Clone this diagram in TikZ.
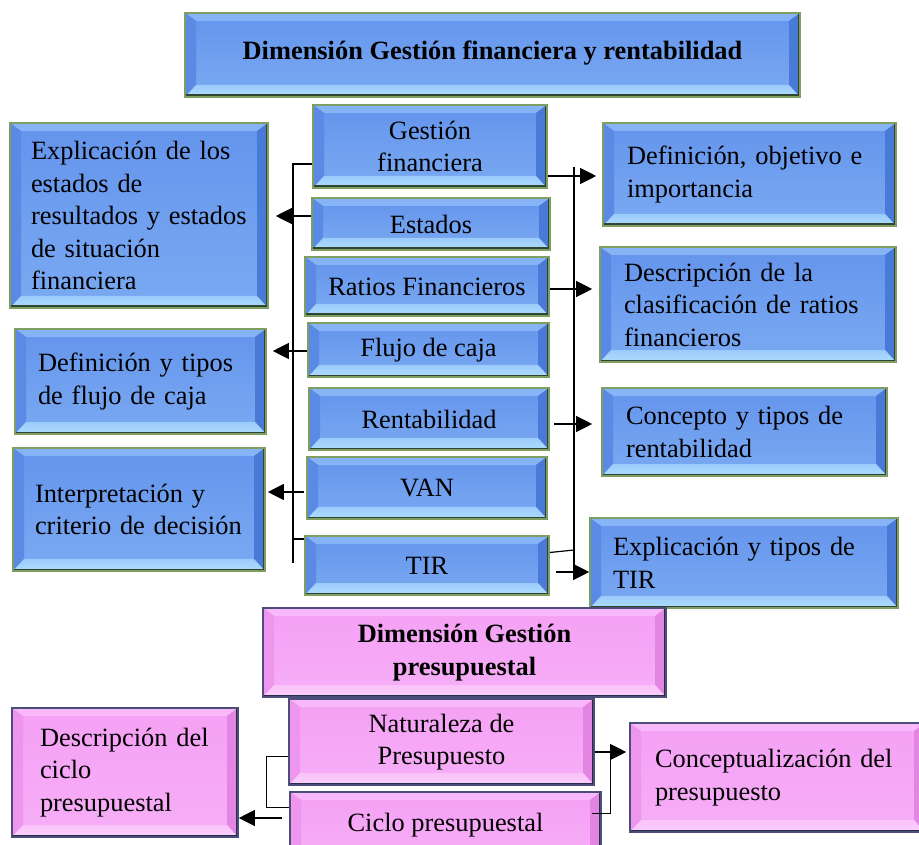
\documentclass[tikz,border=0pt]{standalone}
\usepackage{fontspec}
\setmainfont{Liberation Serif}
\usetikzlibrary{arrows.meta}

% blue boxes
\definecolor{bface}{HTML}{6494EC}
\definecolor{btop}{HTML}{86B4F6}
\definecolor{bleft}{HTML}{5A8AE4}
\definecolor{bright}{HTML}{4A7AD8}
\definecolor{bbot}{HTML}{AEDDFF}
\definecolor{bedge}{HTML}{7F9F62}
\definecolor{bshadow}{HTML}{2F4530}
% pink boxes
\definecolor{pface}{HTML}{F5A0F5}
\definecolor{ptop}{HTML}{F9B8F9}
\definecolor{pleft}{HTML}{EE95EE}
\definecolor{pright}{HTML}{E386E3}
\definecolor{pbot}{HTML}{FBCFFB}
\definecolor{pedge}{HTML}{4A4E78}
\definecolor{pshadow}{HTML}{2A2C48}

% bevel widths: sides, top, bottom
\def\bvS{11pt}
\def\bvT{8pt}
\def\bvB{12pt}

% raised-panel look: shaded face, four bevel trapezoids, shadowed lower-right rim
\newcommand\bevelart[6]{%
  \shade[top color=#1, bottom color=#1!70!#5] (path picture bounding box.south west) rectangle (path picture bounding box.north east);
  \fill[#2] (path picture bounding box.north west) -- (path picture bounding box.north east)
    -- ([shift={(-\bvS,-\bvT)}]path picture bounding box.north east)
    -- ([shift={(\bvS,-\bvT)}]path picture bounding box.north west) -- cycle;
  \fill[#3] (path picture bounding box.north west) -- ([shift={(\bvS,-\bvT)}]path picture bounding box.north west)
    -- ([shift={(\bvS,\bvB)}]path picture bounding box.south west)
    -- (path picture bounding box.south west) -- cycle;
  \fill[#4] (path picture bounding box.north east) -- ([shift={(-\bvS,-\bvT)}]path picture bounding box.north east)
    -- ([shift={(-\bvS,\bvB)}]path picture bounding box.south east)
    -- (path picture bounding box.south east) -- cycle;
  \shade[top color=#5!75!#1, bottom color=#5] (path picture bounding box.south west) -- (path picture bounding box.south east)
    -- ([shift={(-\bvS,\bvB)}]path picture bounding box.south east)
    -- ([shift={(\bvS,\bvB)}]path picture bounding box.south west) -- cycle;
  \draw[#6, line width=2pt] ([shift={(-1.5pt,-1pt)}]path picture bounding box.north east)
    -- ([shift={(-1.5pt,1.5pt)}]path picture bounding box.south east)
    -- ([shift={(1pt,1.5pt)}]path picture bounding box.south west);
}

\tikzset{
  panel/.style={draw=#1, line width=1.6pt, inner sep=0pt,
    font=\fontsize{26.4}{32.5}\selectfont},
  bluebox/.style={panel=bedge, path picture={\bevelart{bface}{btop}{bleft}{bright}{bbot}{bshadow}}},
  pinkbox/.style={panel=pedge, path picture={\bevelart{pface}{ptop}{pleft}{pright}{pbot}{pshadow}}},
  link/.style={line width=1.2pt},
  thinlink/.style={line width=0.9pt},
  arrow/.style={line width=1.2pt, -{Triangle[length=16pt,width=16pt]}},
}

% centred panel: style, name, x1, y1, x2, y2, text
\newcommand\cbox[7]{%
  \pgfmathsetmacro\bw{#5-#3}\pgfmathsetmacro\bh{#6-#4}%
  \pgfmathsetmacro\cx{(#3+#5)/2}\pgfmathsetmacro\cy{-(#4+#6)/2}%
  \node[#1, minimum width=\bw pt, minimum height=\bh pt, align=center] (#2) at (\cx,\cy) {#7};}
% left-aligned panel: style, name, x1, y1, x2, y2, padding, text
\newcommand\lbox[8]{%
  \pgfmathsetmacro\bw{#5-#3}\pgfmathsetmacro\bh{#6-#4}\pgfmathsetmacro\tw{#5-#3-2*#7}%
  \pgfmathsetmacro\cx{(#3+#5)/2}\pgfmathsetmacro\cy{-(#4+#6)/2}%
  \node[#1, minimum width=\bw pt, minimum height=\bh pt, text width=\tw pt, align=left] (#2) at (\cx,\cy) {#8};}

\begin{document}
\begin{tikzpicture}[x=1pt,y=1pt]
\useasboundingbox (0,0) rectangle (919,-845);

% financial dimension
\cbox{bluebox}{title}{185}{13}{800}{97}{\raisebox{10pt}{\bfseries Dimensión Gestión financiera y rentabilidad}}

\cbox{bluebox}{gf}{313}{105}{547}{188}{Gestión\\financiera}
\cbox{bluebox}{es}{312}{198}{550}{250}{Estados}
\cbox{bluebox}{ra}{305}{257}{549}{316}{Ratios Financieros}
\cbox{bluebox}{fl}{308}{323}{549}{377}{Flujo de caja}
\cbox{bluebox}{re}{309}{388}{549}{450}{Rentabilidad}
\cbox{bluebox}{va}{307}{457}{547}{519}{VAN}
\cbox{bluebox}{ti}{305}{536}{549}{595}{TIR}

\lbox{bluebox}{ex}{10}{123}{268}{308}{21}{Explicación de los\\estados de\\resultados y estados\\de situación\\financiera}
\lbox{bluebox}{df}{15}{329}{266}{434}{23}{Definición y tipos\\de flujo de caja}
\lbox{bluebox}{ic}{13}{448}{265}{571}{22}{Interpretación y\\criterio de decisión}

\lbox{bluebox}{d1}{603}{123}{896}{226}{24}{Definición, objetivo e\\importancia}
\lbox{bluebox}{d2}{600}{247}{896}{362}{24}{Descripción de la\\clasificación de ratios\\financieros}
\lbox{bluebox}{d3}{602}{388}{887}{476}{24}{Concepto y tipos de\\rentabilidad}
\lbox{bluebox}{d4}{590}{518}{898}{608}{23}{Explicación y tipos de\\TIR}

% budget dimension
\cbox{pinkbox}{pt}{263}{608}{666}{697}{\bfseries Dimensión Gestión\\\bfseries presupuestal}
\cbox{pinkbox}{nat}{289}{699}{594}{785}{Naturaleza de\\Presupuesto}
\cbox{pinkbox}{cic}{290}{792}{601}{860}{\raisebox{8pt}{Ciclo presupuestal}}
\lbox{pinkbox}{dc}{12}{708}{238}{837}{28}{Descripción del\\ciclo\\presupuestal}
\lbox{pinkbox}{conc}{630}{723}{925}{832}{25}{Conceptualización del\\presupuesto\\[6pt]}

% left trunk
\coordinate (lt) at (293,-164);
\coordinate (lk) at (293,-539);
\coordinate (lb) at (293,-563);
\draw[link] (gf.west |- lt) -- (lt) -- (lb);
\draw[link] (lk) -- (ti.west |- lk);
\coordinate (ea) at (312,-216);
\draw[arrow, shorten >=7pt] (es.west |- ea) -- (ex.east |- ea);
\coordinate (fa) at (308,-351);
\draw[arrow, shorten >=6pt] (fl.west |- fa) -- (df.east |- fa);
\coordinate (va0) at (307,-492);
\draw[arrow, shorten >=2pt, shorten <=2pt] (va.west |- va0) -- (ic.east |- va0);

% right trunk
\coordinate (rt) at (574,-167);
\coordinate (rb) at (574,-577);
\draw[link] (rt) -- (rb);
\coordinate (ga) at (549,-176);
\draw[arrow, shorten >=6pt] (gf.east |- ga) -- (d1.west |- ga);
\coordinate (rta) at (549,-289);
\draw[arrow, shorten >=7pt] (ra.east |- rta) -- (d2.west |- rta);
\coordinate (rea) at (549,-424);
\draw[arrow, shorten >=9pt, shorten <=4pt] (re.east |- rea) -- (d3.west |- rea);
\coordinate (tj) at (574,-550);
\draw[link] ([yshift=13pt]ti.east) -- (tj);
\coordinate (tb) at (549,-572);
\draw[arrow, shorten <=6pt] (ti.east |- tb) -- (d4.west |- tb);

% budget connectors
\coordinate (bl1) at (266,-756);
\coordinate (bl2) at (266,-807);
\draw[thinlink] (nat.west |- bl1) -- (bl1) -- (bl2) -- (cic.west |- bl2);
\coordinate (ba) at (290,-818);
\draw[arrow, shorten <=7pt] (cic.west |- ba) -- (dc.east |- ba);
\coordinate (br1) at (610,-752);
\coordinate (br2) at (610,-813);
\draw[arrow, shorten >=3pt] (nat.east |- br1) -- (conc.west |- br1);
\draw[thinlink] (br1) -- (br2) -- ([xshift=-10pt]cic.east |- br2);
\end{tikzpicture}
\end{document}
